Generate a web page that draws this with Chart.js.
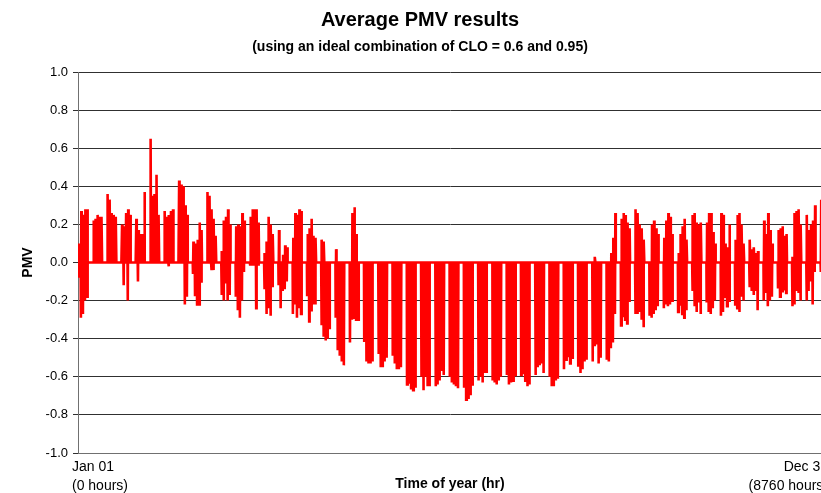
<!DOCTYPE html>
<html>
<head>
<meta charset="utf-8">
<script src="https://cdn.jsdelivr.net/npm/chart.js@4.4.1/dist/chart.umd.min.js"></script>
<style>
  html, body { margin: 0; padding: 0; background: #fff; overflow: hidden; }
  #wrap { width: 840px; height: 493px; }
</style>
</head>
<body>
<div id="wrap"><canvas id="c" width="840" height="493"></canvas></div>
<script>
// ---- Data (PMV per occupied weekday; nights and weekends are 0) ----
// Year starts on a Monday; each inner array = Mon..Fri of one week.
const weekHigh = [
  [0.10, 0.27, 0.25, 0.28, 0.28],
  [0.22, 0.23, 0.25, 0.24, 0.24],
  [0.36, 0.33, 0.26, 0.25, 0.24],
  [0.20, 0.19, 0.26, 0.28, 0.25],
  [0.23, 0.17, 0.15, 0.15, 0.37],
  [0.65, 0.35, 0.36, 0.46, 0.25],
  [0.27, 0.24, 0.25, 0.27, 0.28],
  [0.43, 0.41, 0.40, 0.30, 0.25],
  [0.11, 0.10, 0.12, 0.21, 0.17],
  [0.37, 0.35, 0.28, 0.23, 0.14],
  [0.06, 0.22, 0.24, 0.28, 0.20],
  [0.19, 0.20, 0.19, 0.26, 0.22],
  [0.24, 0.28, 0.28, 0.28, 0.21],
  [0.05, 0.11, 0.24, 0.20, 0.15],
  [0.17, 0.00, 0.04, 0.09, 0.08],
  [0.13, 0.26, 0.25, 0.28, 0.27],
  [0.15, 0.18, 0.23, 0.14, 0.13],
  [0.12, 0.11, 0.00, 0.00, 0.00],
  [0.07, 0.00, 0.00, 0.00, 0.00],
  [0.00, 0.26, 0.29, 0.15, 0.00],
  [0.00, 0.00, 0.00, 0.00, 0.00],
  [0.00, 0.00, 0.00, 0.00, 0.00],
  [0.00, 0.00, 0.00, 0.00, 0.00],
  [0.00, 0.00, 0.00, 0.00, 0.00],
  [0.00, 0.00, 0.00, 0.00, 0.00],
  [0.00, 0.00, 0.00, 0.00, 0.00],
  [0.00, 0.00, 0.00, 0.00, 0.00],
  [0.00, 0.00, 0.00, 0.00, 0.00],
  [0.00, 0.00, 0.00, 0.00, 0.00],
  [0.00, 0.00, 0.00, 0.00, 0.00],
  [0.00, 0.00, 0.00, 0.00, 0.00],
  [0.00, 0.00, 0.00, 0.00, 0.00],
  [0.00, 0.00, 0.00, 0.00, 0.00],
  [0.00, 0.00, 0.00, 0.00, 0.00],
  [0.00, 0.00, 0.00, 0.00, 0.00],
  [0.00, 0.00, 0.00, 0.00, 0.00],
  [0.00, 0.03, 0.00, 0.00, 0.00],
  [0.00, 0.00, 0.05, 0.13, 0.26],
  [0.23, 0.26, 0.25, 0.21, 0.18],
  [0.28, 0.26, 0.20, 0.18, 0.12],
  [0.00, 0.20, 0.22, 0.18, 0.15],
  [0.13, 0.22, 0.26, 0.24, 0.15],
  [0.05, 0.15, 0.19, 0.23, 0.12],
  [0.25, 0.26, 0.21, 0.20, 0.21],
  [0.21, 0.26, 0.26, 0.16, 0.10],
  [0.26, 0.25, 0.10, 0.08, 0.20],
  [0.12, 0.25, 0.26, 0.20, 0.10],
  [0.12, 0.07, 0.08, 0.05, 0.06],
  [0.22, 0.15, 0.26, 0.17, 0.10],
  [0.17, 0.18, 0.19, 0.14, 0.15],
  [0.03, 0.26, 0.27, 0.28, 0.20],
  [0.25, 0.17, 0.20, 0.22, 0.30],
  [0.33]
];
const weekLow = [
  [-0.08, -0.29, -0.27, -0.20, -0.18],
  [0.00, 0.00, 0.00, 0.00, 0.00],
  [0.00, 0.00, 0.00, 0.00, 0.00],
  [0.00, -0.12, 0.00, -0.20, 0.00],
  [0.00, -0.10, 0.00, 0.00, 0.00],
  [0.00, 0.00, 0.00, 0.00, 0.00],
  [0.00, 0.00, -0.02, 0.00, 0.00],
  [0.00, 0.00, 0.00, -0.22, -0.18],
  [-0.06, -0.17, -0.22, -0.22, -0.10],
  [0.00, 0.00, -0.04, -0.04, 0.00],
  [-0.17, -0.20, -0.11, -0.20, -0.17],
  [-0.18, -0.25, -0.29, -0.20, -0.05],
  [-0.01, -0.01, -0.01, -0.24, -0.01],
  [-0.14, -0.27, -0.24, -0.28, -0.13],
  [-0.12, -0.24, -0.15, -0.14, -0.10],
  [-0.27, -0.22, -0.29, -0.24, -0.27],
  [-0.17, -0.31, -0.25, -0.22, -0.22],
  [-0.33, -0.39, -0.41, -0.40, -0.35],
  [-0.29, -0.46, -0.49, -0.52, -0.54],
  [-0.42, -0.30, -0.29, -0.30, -0.30],
  [-0.41, -0.52, -0.53, -0.53, -0.52],
  [-0.48, -0.55, -0.55, -0.52, -0.50],
  [-0.49, -0.53, -0.56, -0.56, -0.55],
  [-0.64, -0.63, -0.66, -0.67, -0.65],
  [-0.60, -0.67, -0.60, -0.65, -0.65],
  [-0.65, -0.64, -0.62, -0.57, -0.59],
  [-0.60, -0.63, -0.64, -0.65, -0.66],
  [-0.65, -0.72, -0.71, -0.69, -0.64],
  [-0.62, -0.60, -0.63, -0.58, -0.58],
  [-0.62, -0.63, -0.64, -0.62, -0.60],
  [-0.59, -0.64, -0.63, -0.62, -0.59],
  [-0.59, -0.58, -0.62, -0.65, -0.64],
  [-0.59, -0.55, -0.54, -0.53, -0.58],
  [-0.60, -0.65, -0.65, -0.62, -0.61],
  [-0.56, -0.51, -0.49, -0.53, -0.50],
  [-0.54, -0.58, -0.56, -0.52, -0.51],
  [-0.52, -0.44, -0.43, -0.53, -0.50],
  [-0.51, -0.52, -0.45, -0.42, -0.27],
  [-0.33, -0.28, -0.30, -0.32, -0.20],
  [-0.27, -0.27, -0.26, -0.30, -0.34],
  [-0.28, -0.29, -0.27, -0.25, -0.23],
  [-0.24, -0.22, -0.23, -0.22, -0.20],
  [-0.26, -0.22, -0.27, -0.29, -0.25],
  [-0.15, -0.23, -0.26, -0.21, -0.27],
  [-0.21, -0.26, -0.27, -0.24, -0.20],
  [-0.28, -0.26, -0.18, -0.23, -0.20],
  [-0.22, -0.24, -0.26, -0.18, -0.20],
  [-0.13, -0.15, -0.17, -0.15, -0.25],
  [-0.20, -0.16, -0.23, -0.20, -0.18],
  [-0.13, -0.18, -0.15, -0.14, -0.16],
  [-0.23, -0.22, -0.15, -0.16, -0.20],
  [-0.20, -0.15, -0.10, -0.22, -0.05],
  [-0.05]
];
const xTickHours = [0, 8760];
const xTickLabels = [['Jan 01', '(0 hours)'], ['Dec 31', '(8760 hours)']];
const yTickStep = 0.2;

// ---- Build hourly-style point table: night 0 -> morning low -> afternoon high -> evening 0 ----
const points = [{x: 0, y: 0}];
for (let k = 0; k < weekHigh.length; k++) {
  for (let j = 0; j < weekHigh[k].length; j++) {
    const h = 24 * (7 * k + j);
    points.push({x: h + 7, y: 0});
    points.push({x: h + 10, y: weekLow[k][j]});
    points.push({x: h + 15, y: weekHigh[k][j]});
    if (k !== weekHigh.length - 1) points.push({x: h + 20, y: 0});
  }
}

// Nudge the two end labels outward a little, as in the reference
const nudgeEndLabels = {
  id: 'nudgeEndLabels',
  beforeDraw(chart) {
    const s = chart.scales.x;
    if (!s || typeof s.getLabelItems !== 'function') return;
    const items = s.getLabelItems();
    if (!items || items._nudged || items.length < 2) return;
    items[0].options.translation[0] -= 6;
    items[items.length - 1].options.translation[0] += 6;
    items._nudged = true;
  }
};

Chart.defaults.font.family = "'Liberation Sans', Arial, sans-serif";
Chart.defaults.color = '#000';

new Chart(document.getElementById('c'), {
  type: 'line',
  data: {
    datasets: [{
      data: points,
      borderColor: '#ff0000',
      borderWidth: 2.6,
      pointRadius: 0,
      tension: 0,
      fill: false
    }]
  },
  plugins: [nudgeEndLabels],
  options: {
    responsive: false,
    animation: false,
    events: [],
    layout: { padding: { left: 0, right: 0, top: 0, bottom: 0 } },
    plugins: {
      legend: { display: false },
      tooltip: { enabled: false },
      title: {
        display: true,
        text: 'Average PMV results',
        color: '#000',
        font: { size: 20, weight: 'bold' },
        padding: { top: 8, bottom: 0 }
      },
      subtitle: {
        display: true,
        text: '(using an ideal combination of CLO = 0.6 and 0.95)',
        color: '#000',
        font: { size: 14, weight: 'bold' },
        padding: { top: 6.6, bottom: 16.6 }
      }
    },
    scales: {
      x: {
        type: 'linear',
        min: 0,
        max: 8760,
        afterBuildTicks: (s) => { s.ticks = xTickHours.map(v => ({ value: v })); },
        afterFit: (s) => { s.height = 40; },
        grid: { display: false, drawTicks: false },
        border: { display: true, color: '#707070', width: 1 },
        ticks: {
          autoSkip: false,
          maxRotation: 0,
          align: 'inner',
          padding: 5,
          color: '#000',
          font: { size: 14, lineHeight: 1.32 },
          callback: (v) => xTickLabels[xTickHours.indexOf(v)]
        },
        title: {
          display: true,
          text: 'Time of year (hr)',
          color: '#000',
          font: { size: 14, weight: 'bold' },
          padding: { top: 6.6, bottom: 0 }
        }
      },
      y: {
        min: -1,
        max: 1,
        z: 1,
        afterFit: (s) => { s.width = 78; },
        grid: { color: '#303030', lineWidth: 1, tickLength: 5, drawTicks: true },
        border: { display: true, color: '#707070', width: 1 },
        ticks: {
          stepSize: yTickStep,
          padding: 5,
          color: '#000',
          font: { size: 13 },
          callback: (v) => Number(v).toFixed(1)
        },
        title: {
          display: true,
          text: 'PMV',
          color: '#000',
          font: { size: 14, weight: 'bold' },
          padding: { top: 19.6, bottom: 0 }
        }
      },
      yRight: {
        position: 'right',
        display: true,
        min: -1,
        max: 1,
        afterFit: (s) => { s.width = 18; },
        grid: { display: false, drawTicks: false },
        border: { display: false },
        ticks: { display: false }
      }
    }
  }
});
</script>
</body>
</html>
